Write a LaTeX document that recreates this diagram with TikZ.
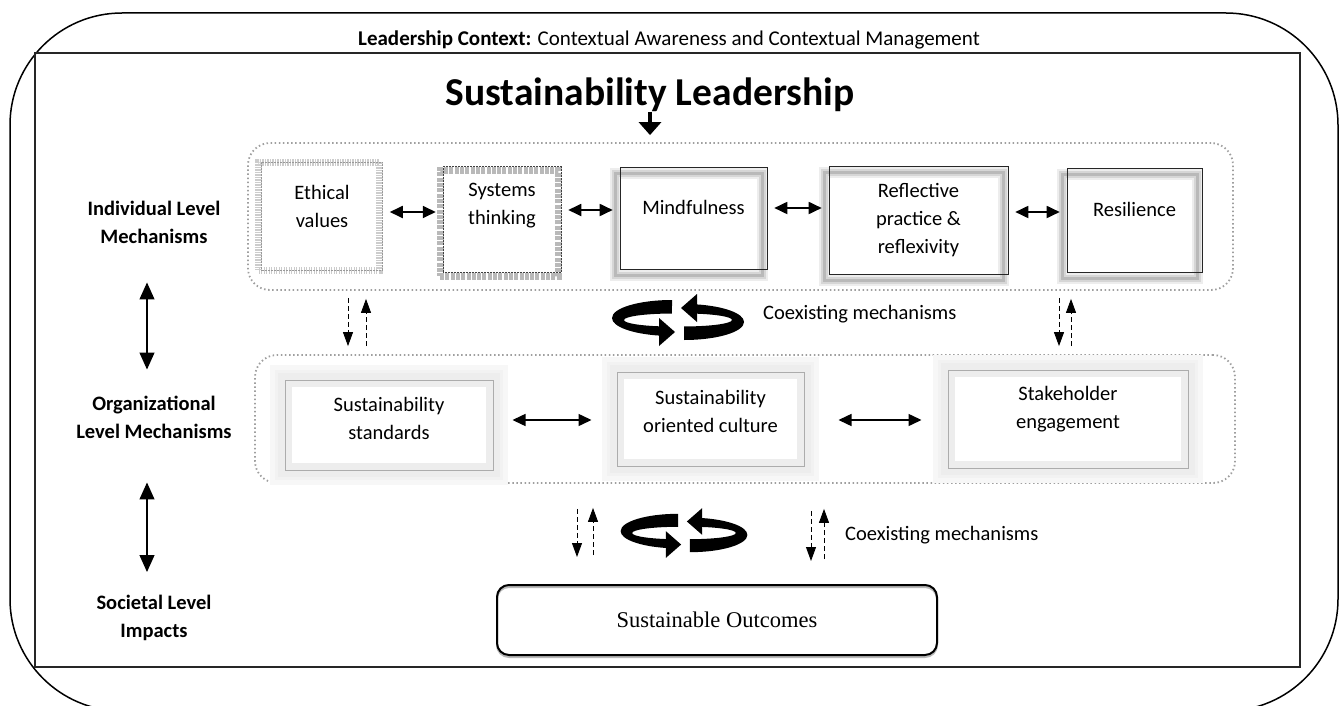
\documentclass[tikz,border=0pt]{standalone}
\usepackage{fontspec}
\setmainfont{Carlito}
\newfontfamily\serifout{Liberation Serif}
\usetikzlibrary{arrows.meta}

\newcommand{\bodysize}{\fontsize{20.5}{28}\selectfont}

\tikzset{
  txt/.style={font=\bodysize, align=center, inner sep=0pt},
  lvl/.style={font=\bodysize\bfseries, align=center, inner sep=0pt},
  grp/.style={draw=gray!75, line width=1.8pt, dash pattern=on 1.5pt off 2.6pt, rounded corners=22pt},
  % striped frames of the first two boxes
  ethbox/.style={draw=gray!80, line width=0.5pt, densely dotted,
    preaction={draw=gray!40, line width=7pt, dash pattern=on 1.1pt off 1.4pt, transform canvas={xshift=-3pt}}},
  sysbox/.style={draw=black!75, line width=0.5pt, densely dotted,
    preaction={draw=gray!55, line width=7pt, dash pattern=on 4pt off 1.3pt, transform canvas={shift={(-3pt,-4pt)}}}},
  % thin frame over a soft grey one
  softbox/.style={draw=black!85, line width=0.6pt,
    preaction={draw=gray!14, line width=11pt, transform canvas={shift={(-5pt,-6pt)}}},
    preaction={draw=gray!32, line width=7pt, transform canvas={shift={(-5pt,-6pt)}}},
    preaction={draw=gray!55, line width=3pt, transform canvas={shift={(-5pt,-6pt)}}}},
  glowbox/.style={draw=gray!65, line width=1pt,
    preaction={draw=gray!6, line width=30pt},
    preaction={draw=gray!10, line width=20pt},
    preaction={fill=white},
    preaction={draw=gray!14, line width=14pt}},
  outbox/.style={draw=black, line width=2pt, rounded corners=12pt, font=\serifout\fontsize{22.5}{26}\selectfont,
    preaction={draw=gray!55, line width=2pt, transform canvas={yshift=-2pt}}},
  dbl/.style={{Triangle[width=12pt,length=13pt]}-{Triangle[width=12pt,length=13pt]}, line width=1.8pt},
  vdbl/.style={{Triangle[width=15pt,length=17pt]}-{Triangle[width=15pt,length=17pt]}, line width=1.2pt},
  dsh/.style={-{Triangle[width=10pt,length=14pt]}, line width=0.9pt, dash pattern=on 5pt off 3pt},
  turnpair/.pic={
    \foreach \r in {0,180}{
      \begin{scope}[rotate=\r]
        \fill (-6,-20) arc[start angle=-90, end angle=-258, x radius=60, y radius=18]
          -- (-16,6.4) arc[start angle=-258, end angle=-90, x radius=48, y radius=6.5] -- cycle;
        \fill (-19,-2) -- (-3,12) -- (-19,26) -- cycle;
      \end{scope}
    }
  }
}

\begin{document}
\begin{tikzpicture}[x=1pt, y=-1pt]
  \useasboundingbox (0,0) rectangle (1341,706);

  % context frame and leadership frame
  \draw[line width=1.5pt, rounded corners=112pt] (10,13) rectangle (1338,711);
  \draw[line width=2.6pt, black!85] (35,53) rectangle (1300,667);
  \node[font=\fontsize{21}{24}\selectfont, inner sep=0pt] (ctx) at (669,40)
    {\textbf{Leadership Context:} Contextual Awareness and Contextual Management};
  \node[font=\fontsize{39.5}{44}\selectfont\bfseries, inner sep=0pt] (title) at (650,95) {Sustainability Leadership};

  % levels on the left
  \node[lvl] (lab1) at (154,222) {Individual Level\\Mechanisms};
  \node[lvl] (lab2) at (154,417) {Organizational\\Level Mechanisms};
  \node[lvl] (lab3) at (154,618) {Societal Level\\Impacts};
  \draw[vdbl, shorten <=39pt, shorten >=26pt] ([xshift=-7pt]lab1.south) -- ([xshift=-7pt]lab2.north);
  \draw[vdbl, shorten <=44pt, shorten >=23pt] ([xshift=-7pt]lab2.south) -- ([xshift=-7pt]lab3.north);

  % individual level
  \node[grp, minimum width=985pt, minimum height=147pt] (indiv) at (740.5,216.5) {};
  \draw[-{Triangle[width=22pt,length=13pt]}, line width=4.5pt, shorten >=7pt]
    (title.south) -- (title.south |- indiv.north);

  \node[ethbox, minimum width=121pt, minimum height=108pt] (eth) at (322,216) {};
  \node[sysbox, minimum width=118pt, minimum height=106pt] (sys) at (502,219) {};
  \node[softbox, minimum width=147pt, minimum height=102pt] (mind) at (693.5,218) {};
  \node[softbox, minimum width=179pt, minimum height=108pt] (refl) at (918.5,220) {};
  \node[softbox, minimum width=135pt, minimum height=104pt] (resil) at (1134.5,220) {};
  \node[txt] (ethT) at (322,206) {Ethical\\values};
  \node[txt] (sysT) at (502,206) {Systems\\thinking};
  \node[txt] (mindT) at (693.5,207) {Mindfulness};
  \node[txt] (reflT) at (918.5,220) {Reflective\\practice \&\\reflexivity};
  \node[txt] (resilT) at (1134.5,209) {Resilience};

  \draw[dbl, shorten <=7pt, shorten >=7pt] ([yshift=4pt]eth.east) -- ([yshift=7pt]sys.west);
  \draw[dbl, shorten <=7pt, shorten >=7pt] ([yshift=9pt]sys.east) -- ([yshift=8pt]mind.west);
  \draw[dbl, shorten <=7pt, shorten >=7pt] ([yshift=10pt]mind.east) -- ([yshift=12pt]refl.west);
  \draw[dbl, shorten <=7pt, shorten >=7pt] ([yshift=8pt]refl.east) -- ([yshift=8pt]resil.west);

  % organizational level
  \node[grp, minimum width=980pt, minimum height=128pt] (org) at (745,419) {};
  \node[glowbox, minimum width=208pt, minimum height=90pt] (std) at (389,425) {};
  \node[glowbox, minimum width=187pt, minimum height=94pt] (cult) at (710.5,419) {};
  \node[glowbox, minimum width=240pt, minimum height=98pt] (stake) at (1068,419) {};
  \node[txt] (stdT) at (389,418.5) {Sustainability\\standards};
  \node[txt] (cultT) at (710.5,411) {Sustainability\\oriented culture};
  \node[txt] (stakeT) at (1068,409) {Stakeholder\\engagement};

  \draw[dbl, line width=1.5pt, shorten <=19pt, shorten >=25pt] ([yshift=5pt]std.east) -- ([yshift=-1pt]cult.west);
  \draw[dbl, line width=1.5pt, shorten <=34pt, shorten >=26pt] ([yshift=-1pt]cult.east) -- ([yshift=-1pt]stake.west);

  % links between the two levels
  \draw[dsh, shorten <=7pt, shorten >=8pt] (348,0 |- indiv.south) -- (348,0 |- org.north);
  \draw[dsh, shorten <=8pt, shorten >=8pt] (366,0 |- org.north) -- (366,0 |- indiv.south);
  \draw[dsh, shorten <=7pt, shorten >=8pt] (1059,0 |- indiv.south) -- (1059,0 |- org.north);
  \draw[dsh, shorten <=8pt, shorten >=8pt] (1071,0 |- org.north) -- (1071,0 |- indiv.south);
  \pic at (678,320) {turnpair};
  \node[txt, anchor=west] (co1) at (763,314) {Coexisting mechanisms};

  % societal level
  \node[outbox, minimum width=440pt, minimum height=70pt] (out) at (717,620) {Sustainable Outcomes};
  \draw[dsh, shorten <=25pt, shorten >=27pt] (577,0 |- org.south) -- (577,0 |- out.north);
  \draw[dsh, shorten <=29pt, shorten >=24pt] (593,0 |- out.north) -- (593,0 |- org.south);
  \draw[dsh, shorten <=27pt, shorten >=23pt] (811,0 |- org.south) -- (811,0 |- out.north);
  \draw[dsh, shorten <=25pt, shorten >=25pt] (824,0 |- out.north) -- (824,0 |- org.south);
  \pic[scale=0.96] at (684,533) {turnpair};
  \node[txt, anchor=west] (co2) at (845,535) {Coexisting mechanisms};
\end{tikzpicture}
\end{document}
